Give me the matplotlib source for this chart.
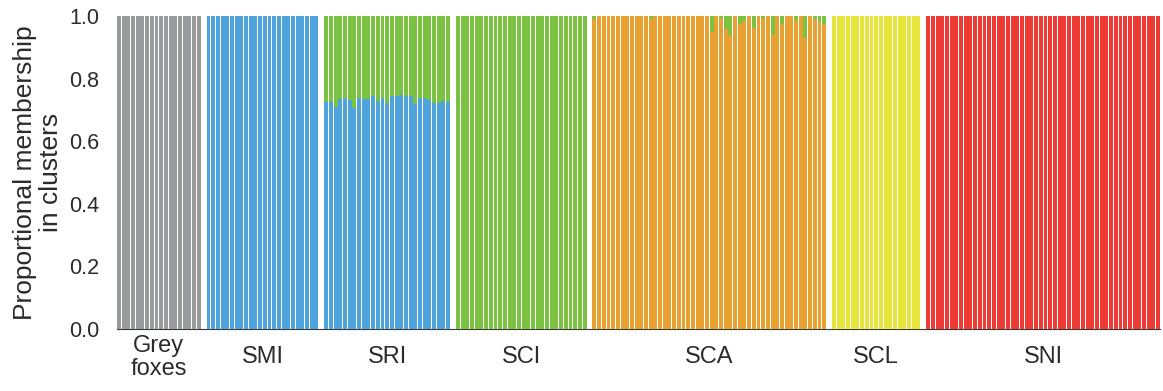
import numpy as np
import matplotlib
matplotlib.use("Agg")
import matplotlib.pyplot as plt

plt.rcParams["font.family"] = ["Liberation Sans", "DejaVu Sans"]

# Population groups and number of individuals in each
groups = ["Grey\nfoxes", "SMI", "SRI", "SCI", "SCA", "SCL", "SNI"]
counts = [18, 24, 27, 28, 50, 19, 50]

# Cluster colours
cluster_colors = {
    "grey": "#999a9c",
    "blue": "#4fa3dd",
    "green": "#7cc242",
    "orange": "#e9a132",
    "yellow": "#e7e43b",
    "red": "#ee3a34",
}

# Membership of SRI individuals in the blue cluster (rest is green)
sri_blue = [0.726, 0.726, 0.710, 0.734, 0.737, 0.732, 0.705, 0.737, 0.734, 0.734,
            0.744, 0.730, 0.737, 0.723, 0.744, 0.744, 0.748, 0.744, 0.744, 0.719,
            0.737, 0.737, 0.732, 0.723, 0.721, 0.730, 0.726]

# Membership of SCA individuals in the orange cluster (rest is green)
sca_orange = [0.990, 1.0, 1.0, 1.0, 1.0, 1.0, 1.0, 1.0, 1.0, 1.0,
              1.0, 1.0, 0.990, 1.0, 1.0, 1.0, 1.0, 1.0, 1.0, 1.0,
              1.0, 1.0, 1.0, 1.0, 1.0, 0.950, 1.0, 0.993, 0.960, 0.940,
              1.0, 0.975, 0.985, 1.0, 0.963, 1.0, 0.993, 1.0, 0.940, 1.0,
              0.975, 1.0, 1.0, 0.985, 1.0, 0.930, 1.0, 0.990, 0.980, 0.975]

yticks = [0.0, 0.2, 0.4, 0.6, 0.8, 1.0]

# Per-group stacks: (cluster, values) from bottom to top
stacks = [
    [("grey", [1.0] * counts[0])],
    [("blue", [1.0] * counts[1])],
    [("blue", sri_blue), ("green", [1 - v for v in sri_blue])],
    [("green", [1.0] * counts[3])],
    [("orange", sca_orange), ("green", [1 - v for v in sca_orange])],
    [("yellow", [1.0] * counts[5])],
    [("red", [1.0] * counts[6])],
]

group_gap = 1.1
bar_w = 0.84
text_color = "#2b2b2b"

fig = plt.figure(figsize=(11.63, 3.91), dpi=100)
ax = fig.add_axes([0.1006, 0.1586, 0.8968, 0.8005])

start = 0.0
centers = []
all_pos = []
for n, stack in zip(counts, stacks):
    pos = start + np.arange(n)
    all_pos.extend(pos)
    bottom = np.zeros(n)
    for cname, vals in stack:
        vals = np.asarray(vals, dtype=float)
        ax.bar(pos, vals, bottom=bottom, width=bar_w,
               color=cluster_colors[cname], linewidth=0, align="center")
        bottom = bottom + vals
    centers.append(pos.mean())
    start = pos[-1] + 1 + group_gap

ax.set_xlim(all_pos[0] - bar_w / 2, all_pos[-1] + bar_w / 2)
ax.set_ylim(0, 1.0)

ax.set_yticks(yticks)
ax.set_yticklabels([f"{t:.1f}" for t in yticks], fontsize=15.5, color=text_color)
ax.tick_params(axis="y", length=0, pad=13)
ax.tick_params(axis="x", length=0)
ax.set_xticks([])

for s in ["top", "right", "left"]:
    ax.spines[s].set_visible(False)
ax.spines["bottom"].set_color("#3a3a3a")
ax.spines["bottom"].set_linewidth(0.8)
ax.spines["bottom"].set_zorder(0)

ax.set_ylabel("Proportional membership\nin clusters", fontsize=19,
              color=text_color, linespacing=1.1, labelpad=4)

for c, name in zip(centers, groups):
    ax.text(c, -0.09, name, transform=ax.get_xaxis_transform(),
            ha="center", va="center", fontsize=17, color=text_color,
            linespacing=1.05)

fig.savefig("out.png", dpi=100)
